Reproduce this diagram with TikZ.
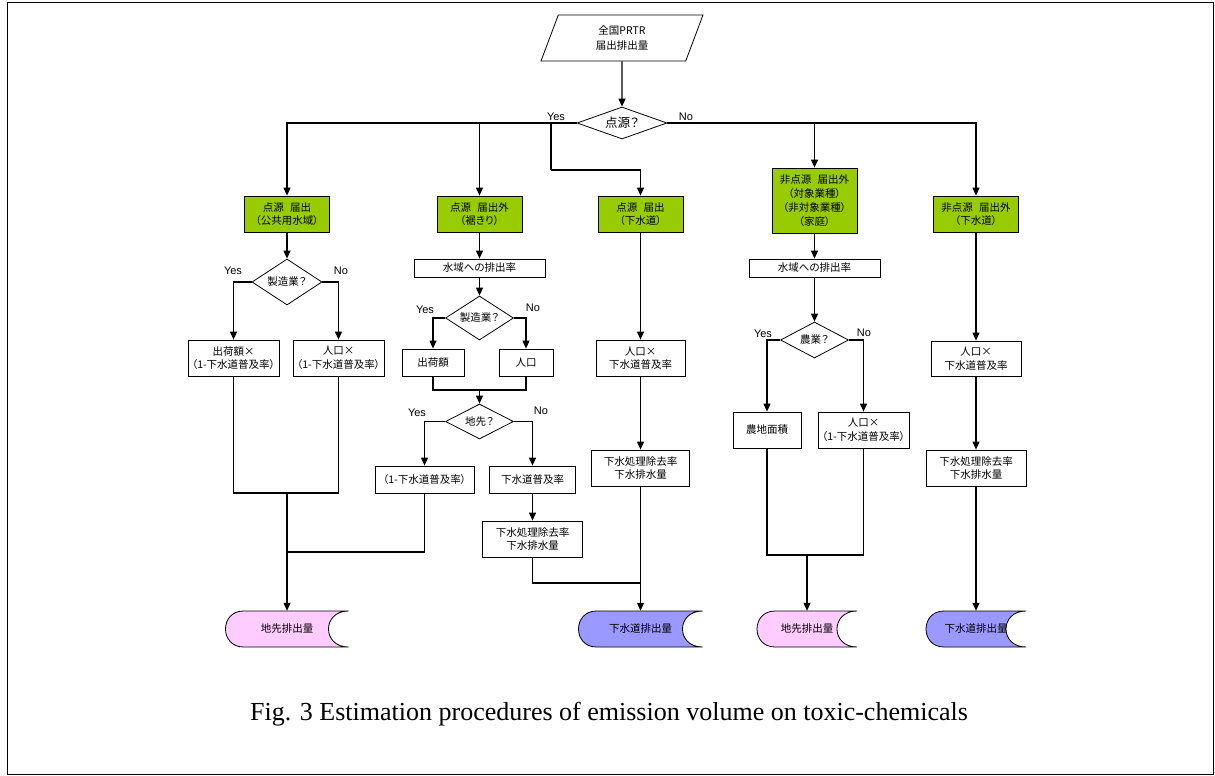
\documentclass[tikz,border=0pt]{standalone}
\usepackage{fontspec}
\newfontfamily\jp[RawFeature=+palt]{Noto Sans CJK JP}
\newfontfamily\lat{Liberation Sans}
\newfontfamily\capf{Liberation Serif}
\usetikzlibrary{shapes.geometric,arrows.meta,calc}
\definecolor{grn}{HTML}{99CC00}
\definecolor{pnk}{HTML}{FFCCFF}
\definecolor{blu}{HTML}{9999FF}
\newcommand\jpt{\jp\fontsize{10.5}{13.5}\selectfont}
\newcommand\gap{\hspace{0.6em}}
% stored-data shape: name, x, y, width, colour, text
\newcommand\sdata[6]{%
  \draw[line width=0.8pt,fill=#5] ({#2-#4/2+18},{#3-18}) -- ({#2+#4/2},{#3-18})
     .. controls ({#2+#4/2-26.7},{#3-18}) and ({#2+#4/2-26.7},{#3+18}) .. ({#2+#4/2},{#3+18})
     -- ({#2-#4/2+18},{#3+18})
     .. controls ({#2-#4/2-6},{#3+18}) and ({#2-#4/2-6},{#3-18}) .. cycle;
  \node[inner sep=0pt,minimum width=#4,minimum height=36,font=\jpt] (#1) at (#2,#3) {#6};}
\begin{document}
\begin{tikzpicture}[x=1pt,y=-1pt,
  box/.style={draw,fill=white,line width=0.8pt,inner sep=0pt,align=center,font=\jpt},
  gbox/.style={box,fill=grn},
  dec/.style={draw,shape=diamond,fill=white,line width=0.8pt,inner sep=0pt,font=\jpt},
  arr/.style={line width=1.1pt,-{Triangle[length=8pt,width=7pt]}},
  ln/.style={line width=1.1pt},
  lab/.style={inner sep=0pt,font=\lat\fontsize{11}{12}\selectfont}]
\useasboundingbox (0,0) rectangle (1215,776);
\draw[line width=1.2pt] (7.5,2.5) rectangle (1213.5,774.5);

% top
\node[draw,line width=0.8pt,shape=trapezium,trapezium left angle=55,trapezium right angle=125,
  trapezium stretches body=true,minimum width=162pt,minimum height=46pt,inner sep=0pt,
  align=center,font=\jp\fontsize{10.5}{15}\selectfont] (top) at (622,38) {全国PRTR\\届出排出量};
\node[dec,aspect=2.8,minimum width=90pt,minimum height=32pt,font=\jp\fontsize{12.5}{14}\selectfont] (d0) at (622,123) {点源？};
\node[lab] (y0) at (556,117) {Yes};
\node[lab] (n0) at (686,117) {No};

% green boxes
\node[gbox,minimum width=85pt,minimum height=36pt] (g1) at (287,214) {点源\gap 届出\\（公共用水域）};
\node[gbox,minimum width=85pt,minimum height=36pt] (g2) at (479.5,214) {点源\gap 届出外\\（裾きり）};
\node[gbox,minimum width=85pt,minimum height=36pt] (g3) at (640.5,214) {点源\gap 届出\\（下水道）};
\node[gbox,minimum width=85pt,minimum height=65pt,font=\jp\fontsize{10.5}{14}\selectfont] (g4) at (814.5,200.5) {非点源\gap 届出外\\（対象業種）\\（非対象業種）\\（家庭）};
\node[gbox,minimum width=85pt,minimum height=36pt] (g5) at (976,214) {非点源\gap 届出外\\（下水道）};

\coordinate (j3) at (551,123);
\coordinate (k3) at (551,170);
\draw[arr] (d0.west) -| (g1.north);
\draw[arr] (d0.west) -| (g2.north);
\draw[ln] (j3) -- (k3);
\draw[arr] (k3) -| (g3.north);
\draw[arr] (d0.east) -| (g4.north);
\draw[arr] (d0.east) -| (g5.north);
\draw[arr] (top.south) -- (d0.north);

% column 1
\node[dec,aspect=1.5,minimum width=70pt,minimum height=46pt] (d1) at (287,282) {製造業？};
\node[lab] (y1) at (233,271) {Yes};
\node[lab] (n1) at (341,271) {No};
\node[box,minimum width=91pt,minimum height=36pt] (b11) at (233.5,358) {出荷額×\\（1-下水道普及率）};
\node[box,minimum width=91pt,minimum height=36pt] (b12) at (338.5,358) {人口×\\（1-下水道普及率）};
\sdata{e1}{287}{629}{123}{pnk}{地先排出量}
\coordinate (m1) at (287,493);
\coordinate (m1b) at (287,552);
\draw[arr] (g1.south) -- (d1.north);
\draw[arr] (d1.west) -| (b11.north);
\draw[arr] (d1.east) -| (b12.north);
\draw[ln] (b11.south) |- (m1);
\draw[ln] (b12.south) |- (m1);
\draw[arr] (m1) -- (e1.north);

% column 2
\node[box,minimum width=131pt,minimum height=18pt] (w2) at (479.5,268) {水域への排出率};
\node[dec,aspect=1.5,minimum width=68pt,minimum height=44pt] (d2) at (479.5,318) {製造業？};
\node[lab] (y2) at (425,310) {Yes};
\node[lab] (n2) at (533,308) {No};
\node[box,minimum width=62pt,minimum height=27pt] (b21) at (433,362.5) {出荷額};
\node[box,minimum width=54pt,minimum height=27pt] (b22) at (526,362.5) {人口};
\coordinate (m2) at (479.5,390);
\node[dec,aspect=2,minimum width=68pt,minimum height=35pt] (d3) at (479.5,421.5) {地先？};
\node[lab] (y3) at (417,413) {Yes};
\node[lab] (n3) at (541,411) {No};
\node[box,minimum width=99pt,minimum height=27pt] (b23) at (424.5,479.5) {（1-下水道普及率）};
\node[box,minimum width=86pt,minimum height=27pt] (b24) at (532.5,479.5) {下水道普及率};
\node[box,minimum width=100pt,minimum height=36pt] (b25) at (532.5,539) {下水処理除去率\\下水排水量};
\draw[arr] (g2.south) -- (w2.north);
\draw[arr] (w2.south) -- (d2.north);
\draw[arr] (d2.west) -| (b21.north);
\draw[arr] (d2.east) -| (b22.north);
\draw[ln] (b21.south) |- (m2);
\draw[ln] (b22.south) |- (m2);
\draw[arr] (m2) -- (d3.north);
\draw[arr] (d3.west) -| (b23.north);
\draw[arr] (d3.east) -| (b24.north);
\draw[arr] (b24.south) -- (b25.north);
\draw[ln] (b23.south) |- (m1b);

% column 3
\node[box,minimum width=89pt,minimum height=36pt] (b31) at (640.5,358) {人口×\\下水道普及率};
\node[box,minimum width=98pt,minimum height=36pt] (b32) at (640.5,468) {下水処理除去率\\下水排水量};
\sdata{e3}{640.5}{629}{124}{blu}{下水道排出量}
\coordinate (m3) at (640.5,583);
\draw[arr] (g3.south) -- (b31.north);
\draw[arr] (b31.south) -- (b32.north);
\draw[arr] (b32.south) -- (e3.north);
\draw[ln] (b25.south) |- (m3);

% column 4
\node[box,minimum width=131pt,minimum height=18pt] (w4) at (814.5,268) {水域への排出率};
\node[dec,aspect=2,minimum width=68pt,minimum height=36pt] (d4) at (814.5,340) {農業？};
\node[lab] (y4) at (763,334) {Yes};
\node[lab] (n4) at (864,333) {No};
\node[box,minimum width=68pt,minimum height=36pt] (b41) at (767,430) {農地面積};
\node[box,minimum width=91pt,minimum height=36pt] (b42) at (863.5,430) {人口×\\（1-下水道普及率）};
\sdata{e4}{807}{629}{100}{pnk}{地先排出量}
\coordinate (m4) at (807,555);
\draw[arr] (g4.south) -- (w4.north);
\draw[arr] (w4.south) -- (d4.north);
\draw[arr] (d4.west) -| (b41.north);
\draw[arr] (d4.east) -| (b42.north);
\draw[ln] (b41.south) |- (m4);
\draw[ln] (b42.south) |- (m4);
\draw[arr] (m4) -- (e4.north);

% column 5
\node[box,minimum width=90pt,minimum height=35pt] (b51) at (976,358.5) {人口×\\下水道普及率};
\node[box,minimum width=100pt,minimum height=36pt] (b52) at (976,468) {下水処理除去率\\下水排水量};
\sdata{e5}{976}{629}{100}{blu}{下水道排出量}
\draw[arr] (g5.south) -- (b51.north);
\draw[arr] (b51.south) -- (b52.north);
\draw[arr] (b52.south) -- (e5.north);

% caption
\node[inner sep=0pt,font=\capf\fontsize{26}{30}\selectfont] (cap) at (609,714) {Fig. 3 Estimation procedures of emission volume on toxic-chemicals};
\end{tikzpicture}
\end{document}
